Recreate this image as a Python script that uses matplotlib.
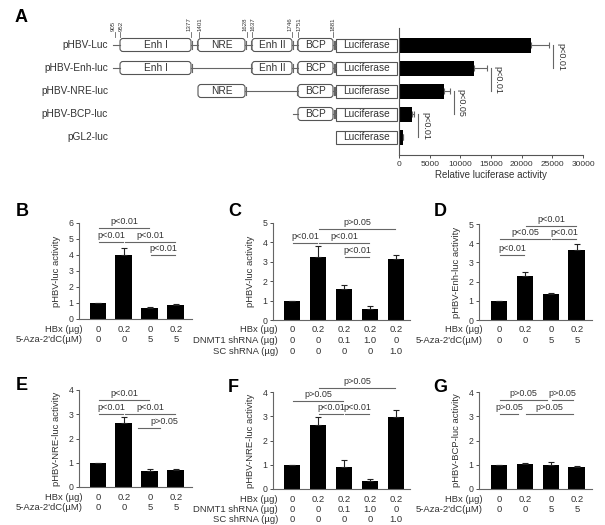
import numpy as np
import matplotlib
matplotlib.use('Agg')
import matplotlib.pyplot as plt
from matplotlib.patches import FancyBboxPatch, Rectangle
from matplotlib import transforms

plt.rcParams['font.family'] = ['Liberation Sans', 'DejaVu Sans']

# ---- panel A data ----
constructs = ['pHBV-Luc', 'pHBV-Enh-luc', 'pHBV-NRE-luc', 'pHBV-BCP-luc', 'pGL2-luc']
construct_parts = [['Enh I', 'NRE', 'Enh II', 'BCP', 'Luciferase'],
                   ['Enh I', 'Enh II', 'BCP', 'Luciferase'],
                   ['NRE', 'BCP', 'Luciferase'],
                   ['BCP', 'Luciferase'],
                   ['Luciferase']]
luc_activity = [21500, 12300, 7400, 2100, 650]
luc_err = [3000, 2000, 850, 350, 0]
luc_pvals = ['p<0.01', 'p<0.01', 'p<0.05', 'p<0.01']
nt_positions = ['905', '952', '1377', '1401', '1628', '1637', '1746', '1751', '1881']

# ---- panels B-G data ----
hbx_4 = ['0', '0.2', '0', '0.2']
aza_4 = ['0', '0', '5', '5']
hbx_5 = ['0', '0.2', '0.2', '0.2', '0.2']
dnmt1_5 = ['0', '0', '0.1', '1.0', '0']
sc_5 = ['0', '0', '0', '0', '1.0']

B_vals = [1.0, 4.0, 0.68, 0.9]
B_err = [0, 0.45, 0.05, 0.06]
C_vals = [1.0, 3.25, 1.6, 0.55, 3.12]
C_err = [0, 0.55, 0.22, 0.15, 0.22]
D_vals = [1.0, 2.28, 1.33, 3.65]
D_err = [0, 0.2, 0.1, 0.3]
E_vals = [1.0, 2.63, 0.65, 0.7]
E_err = [0, 0.25, 0.08, 0.06]
F_vals = [1.0, 2.65, 0.92, 0.33, 2.95]
F_err = [0, 0.3, 0.28, 0.07, 0.3]
G_vals = [1.0, 1.03, 0.97, 0.92]
G_err = [0, 0.04, 0.15, 0.02]

# (from bar, to bar, height, text)
B_brackets = [(0, 2, 5.66, 'p<0.01'), (0, 1, 4.83, 'p<0.01'), (1, 3, 4.83, 'p<0.01'), (2, 3, 4.0, 'p<0.01')]
C_brackets = [(1, 4, 4.69, 'p>0.05'), (0, 1, 3.98, 'p<0.01'), (1, 3, 3.98, 'p<0.01'), (2, 3, 3.26, 'p<0.01')]
D_brackets = [(1, 3, 4.9, 'p<0.01'), (0, 2, 4.2, 'p<0.05'), (2, 3, 4.2, 'p<0.01'), (0, 1, 3.38, 'p<0.01')]
E_brackets = [(0, 2, 3.58, 'p<0.01'), (0, 1, 3.03, 'p<0.01'), (1, 3, 3.03, 'p<0.01'), (1.5, 2.42, 2.42, 'p>0.05')]
F_brackets = [(1, 4, 4.18, 'p>0.05'), (0, 2, 3.63, 'p>0.05'), (1, 2, 3.08, 'p<0.01'), (2, 3, 3.08, 'p<0.01')]
G_brackets = [(0, 1.9, 3.66, 'p>0.05'), (2, 2.9, 3.66, 'p>0.05'), (0, 0.8, 3.08, 'p>0.05'), (1, 2.9, 3.08, 'p>0.05')]

W, H = 605, 525
fig = plt.figure(figsize=(W / 100, H / 100), dpi=100)
TXT = '#333333'
LINE = '#666666'


def px_axes(x0, y0, x1, y1):
    return fig.add_axes([x0 / W, 1 - y1 / H, (x1 - x0) / W, (y1 - y0) / H])


# overlay in pixel coordinates for the schematic and the panel letters
ov = fig.add_axes([0, 0, 1, 1])
ov.set_xlim(0, W)
ov.set_ylim(H, 0)
ov.axis('off')

for lab, (x, y) in zip('ABCDEFG', [(21, 17), (22, 212), (235, 212), (440, 212),
                                   (22, 386), (233, 388), (440, 387)]):
    ov.text(x, y, lab, fontsize=13, fontweight='bold', ha='center', va='center')

# schematic layout (pixels)
part_span = {'Enh I': (120, 191), 'NRE': (198, 245), 'Enh II': (252, 292),
             'BCP': (298, 333), 'Luciferase': (336, 397)}
pos_px = [115, 120, 191, 199, 247, 252, 292, 298, 333]
pos_nudge = [-1.5, 1.5, -1.5, 1.5, -1.5, 1.5, -1.5, 1.5, 0]
lead_from = {0: 113, 1: 113, 3: 293}
row_y = [45 + 23 * i for i in range(len(constructs))]

for x, dx, t in zip(pos_px, pos_nudge, nt_positions):
    ov.plot([x, x], [32, 37], color=LINE, lw=0.6)
    ov.text(x + dx, 31, t, rotation=90, fontsize=4.4, ha='center', va='bottom', color=TXT)

for i, (name, parts) in enumerate(zip(constructs, construct_parts)):
    y = row_y[i]
    ov.text(108, y, name, fontsize=7.3, ha='right', va='center', color=TXT)
    if i in lead_from:
        first = part_span[parts[0]][0]
        ov.plot([lead_from[i], first], [y, y], color=LINE, lw=0.8)
    for a, b in zip(parts[:-1], parts[1:]):
        xa, xb = part_span[a][1], part_span[b][0]
        ov.plot([xa, xb], [y, y], color=LINE, lw=0.8)
        ov.plot([xa + 1, xa + 1], [y - 4, y + 4], color=LINE, lw=0.8)
        ov.plot([xb - 1, xb - 1], [y - 4, y + 4], color=LINE, lw=0.8)
    for p in parts:
        x0, x1 = part_span[p]
        if p == 'Luciferase':
            patch = Rectangle((x0, y - 6.5), x1 - x0, 13, fc='white', ec='#555555', lw=0.8)
        else:
            patch = FancyBboxPatch((x0, y - 6.5), x1 - x0, 13,
                                   boxstyle='round,pad=0,rounding_size=3',
                                   fc='white', ec='#555555', lw=0.8)
        ov.add_patch(patch)
        ov.text((x0 + x1) / 2, y, p, fontsize=7.3, ha='center', va='center', color=TXT)

# ---- panel A bar chart ----
axA = px_axes(399, 28, 583, 155)
yidx = np.arange(len(constructs))
axA.barh(yidx, luc_activity, height=0.65, color='black',
         xerr=[np.zeros(len(luc_err)), luc_err], ecolor='#666666',
         error_kw=dict(capsize=2.5, elinewidth=0.8, capthick=0.8))
axA.set_ylim(4.78, -0.74)
axA.set_xlim(0, 30000)
axA.set_xticks(np.arange(0, 30001, 5000))
axA.tick_params(axis='x', labelsize=6, length=2, width=0.6, pad=2, colors=TXT)
axA.set_yticks([])
for s in ['top', 'right']:
    axA.spines[s].set_visible(False)
for s in ['left', 'bottom']:
    axA.spines[s].set_color('#555555')
    axA.spines[s].set_linewidth(0.8)
axA.set_xlabel('Relative luciferase activity', fontsize=7, color=TXT, labelpad=2)
for i, t in enumerate(luc_pvals):
    xr = luc_activity[i] + luc_err[i]
    tr = transforms.offset_copy(axA.transData, fig=fig, x=4, units='dots')
    axA.plot([xr, xr], [i, i + 1], color=LINE, lw=0.8, transform=tr, clip_on=False)
    axA.annotate(t, xy=(xr, i + 0.5), xytext=(7, 0), textcoords='offset pixels',
                 rotation=270, fontsize=6.5, ha='left', va='center', color=TXT,
                 annotation_clip=False)


def bar_panel(box, vals, err, ylim, xlim, ylabel, brackets, rows, row_off, text_x=None):
    ax = px_axes(*box)
    x = np.arange(len(vals))
    ax.bar(x, vals, width=0.65, color='black',
           yerr=[np.zeros(len(err)), err], ecolor='#222222',
           error_kw=dict(capsize=2, elinewidth=0.8, capthick=0.8))
    ax.set_xlim(*xlim)
    ax.set_ylim(0, ylim)
    ax.set_yticks(np.arange(0, ylim + 1))
    ax.set_xticks([])
    ax.tick_params(axis='y', labelsize=6.3, length=2.5, width=0.6, pad=1.5, colors=TXT)
    for s in ['top', 'right']:
        ax.spines[s].set_visible(False)
    for s in ['left', 'bottom']:
        ax.spines[s].set_color('#666666')
        ax.spines[s].set_linewidth(0.8)
    wpx = box[2] - box[0]
    ax.set_ylabel(ylabel, fontsize=6.8, color=TXT)
    ax.yaxis.set_label_coords(-18 / wpx, 0.5)
    for k, (a, b, yv, t) in enumerate(brackets):
        ax.plot([a + 0.05, b - 0.05], [yv, yv], color=LINE, lw=0.8, clip_on=False)
        tx = (a + b) / 2
        if text_x is not None and k in text_x:
            tx = text_x[k]
        ax.annotate(t, xy=(tx, yv), xytext=(0, 2), textcoords='offset pixels',
                    ha='center', va='bottom', fontsize=6.5, color=TXT, annotation_clip=False)
    for r, (name, labels) in enumerate(rows):
        dy = -10 - 10.5 * r
        ax.annotate(name, xy=(0, 0), xycoords='axes fraction', xytext=(row_off, dy),
                    textcoords='offset pixels', ha='right', va='center', fontsize=6.8,
                    color=TXT, annotation_clip=False)
        for i, l in enumerate(labels):
            ax.annotate(l, xy=(i, 0), xycoords=('data', 'axes fraction'), xytext=(0, dy),
                        textcoords='offset pixels', ha='center', va='center', fontsize=6.8,
                        color=TXT, annotation_clip=False)
    return ax


aza_rows = [('HBx (\u00b5g)', hbx_4), ("5-Aza-2'dC(\u00b5M)", aza_4)]
sh_rows = [('HBx (\u00b5g)', hbx_5), ('DNMT1 shRNA (\u00b5g)', dnmt1_5), ('SC shRNA (\u00b5g)', sc_5)]

bar_panel((79, 223, 192, 319), B_vals, B_err, 6, (-0.73, 3.62), 'pHBV-luc activity',
          B_brackets, aza_rows, 4)
bar_panel((273, 223, 410, 320), C_vals, C_err, 5, (-0.73, 4.54), 'pHBV-luc activity',
          C_brackets, sh_rows, 5)
bar_panel((479, 224, 592, 320), D_vals, D_err, 5, (-0.77, 3.58), 'pHBV-Enh-luc activity',
          D_brackets, aza_rows, 4)
bar_panel((79, 390, 192, 487), E_vals, E_err, 4, (-0.73, 3.62), 'pHBV-NRE-luc activity',
          E_brackets, aza_rows, 4, text_x={3: 2.56})
bar_panel((273, 392, 410, 489), F_vals, F_err, 4, (-0.73, 4.54), 'pHBV-NRE-luc activity',
          F_brackets, sh_rows, 5)
bar_panel((479, 392, 592, 489), G_vals, G_err, 4, (-0.77, 3.58), 'pHBV-BCP-luc activity',
          G_brackets, aza_rows, 4)

fig.savefig('out.png', dpi=100)
